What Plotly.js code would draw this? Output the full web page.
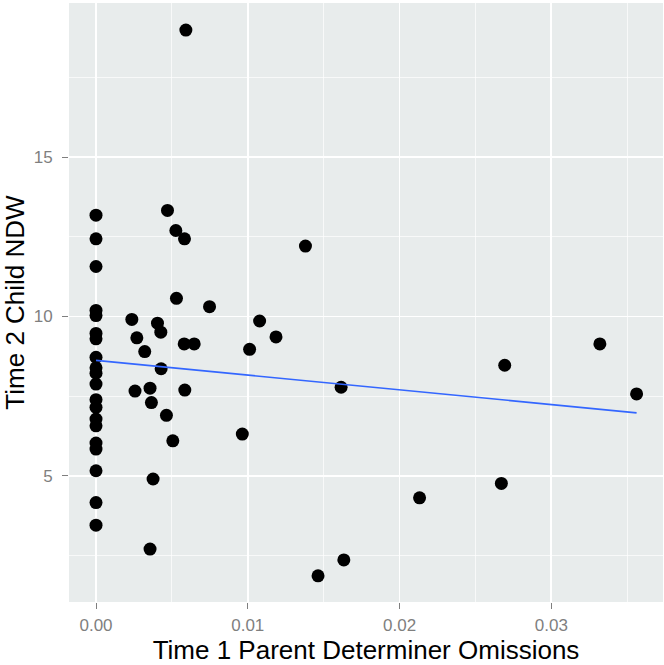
<!DOCTYPE html>
<html>
<head>
<meta charset="utf-8">
<script src="https://cdn.plot.ly/plotly-3.0.1.min.js"></script>
<style>html,body{margin:0;padding:0;background:#fff;}#chart{width:664px;height:665px;}</style>
</head>
<body>
<div id="chart"></div>
<script>
// Time 1 parent determiner omissions (x) vs Time 2 child NDW (y)
var omissions = [
  0,0,0,0,0,0,0,0,0,0,0,0,0,0,0,0,0,0,0,0,
  0.00592,0.00471,0.00526,0.00583,0.00530,0.00748,0.00236,0.00405,0.00427,0.01078,
  0.00269,0.00321,0.00581,0.00647,0.01012,0.00429,0.00257,0.00356,0.00585,0.00365,
  0.00464,0.00506,0.00964,0.00376,0.00356,0.01380,0.01186,0.01615,0.02693,0.03320,
  0.03562,0.02132,0.02671,0.01633,0.01463
];
var ndw = [
  13.18,12.44,11.57,10.19,10.03,9.47,9.30,8.72,8.39,8.22,7.88,7.39,7.15,6.78,6.57,6.03,5.84,5.16,4.16,3.45,
  18.99,13.33,12.70,12.44,10.57,10.31,9.91,9.79,9.51,9.86,
  9.33,8.90,9.14,9.14,8.97,8.36,7.66,7.75,7.69,7.30,
  6.90,6.10,6.31,4.90,2.70,12.21,9.36,7.78,8.47,9.14,
  7.57,4.31,4.76,2.36,1.86
];
var xTicks = [0, 0.01, 0.02, 0.03];
var xTickText = ["0.00", "0.01", "0.02", "0.03"];
var yTicks = [5, 10, 15];
var yTickText = ["5", "10", "15"];

// least-squares fit (geom_smooth method = lm)
var n = omissions.length, sx = 0, sy = 0, sxx = 0, sxy = 0;
for (var i = 0; i < n; i++) { sx += omissions[i]; sy += ndw[i]; sxx += omissions[i]*omissions[i]; sxy += omissions[i]*ndw[i]; }
var slope = (n*sxy - sx*sy) / (n*sxx - sx*sx);
var intercept = (sy - slope*sx) / n;
var xmin = Math.min.apply(null, omissions), xmax = Math.max.apply(null, omissions);
var fitX = [xmin, xmax];
var fitY = fitX.map(function(v){ return intercept + slope*v; });

var traces = [
  {x: omissions, y: ndw, type: 'scatter', mode: 'markers',
   marker: {color: '#000000', size: 13}, hoverinfo: 'x+y'},
  {x: fitX, y: fitY, type: 'scatter', mode: 'lines',
   line: {color: '#3366FF', width: 1.6}}
];

var layout = {
  width: 664, height: 665,
  margin: {l: 69, r: 1, t: 3, b: 63},
  paper_bgcolor: '#ffffff',
  plot_bgcolor: '#E8ECEC',
  showlegend: false,
  font: {family: '"Liberation Sans", Arial, sans-serif'},
  xaxis: {
    range: [-0.00178, 0.03736], automargin: true,
    tickvals: xTicks, ticktext: xTickText,
    ticks: 'outside', ticklen: 6, tickwidth: 1, tickcolor: '#7f7f7f',
    tickfont: {size: 17, color: '#7f7f7f'}, ticklabelstandoff: 2,
    showgrid: true, gridcolor: '#ffffff', gridwidth: 1.6,
    minor: {dtick: 0.005, tick0: 0, showgrid: true, gridcolor: '#ffffff', gridwidth: 0.7, ticks: ''},
    zeroline: false, showline: false,
    title: {text: 'Time 1 Parent Determiner Omissions', font: {size: 26, color: '#000000'}, standoff: 8}
  },
  yaxis: {
    range: [1.04, 19.84], automargin: true,
    tickvals: yTicks, ticktext: yTickText,
    ticks: 'outside', ticklen: 6, tickwidth: 1, tickcolor: '#7f7f7f',
    tickfont: {size: 17, color: '#7f7f7f'}, ticklabelstandoff: 6,
    showgrid: true, gridcolor: '#ffffff', gridwidth: 1.6,
    minor: {dtick: 2.5, tick0: 0, showgrid: true, gridcolor: '#ffffff', gridwidth: 0.7, ticks: ''},
    zeroline: false, showline: false,
    title: {text: 'Time 2 Child NDW', font: {size: 26, color: '#000000'}, standoff: 8}
  }
};

Plotly.newPlot('chart', traces, layout, {displayModeBar: false, staticPlot: true});
</script>
</body>
</html>
